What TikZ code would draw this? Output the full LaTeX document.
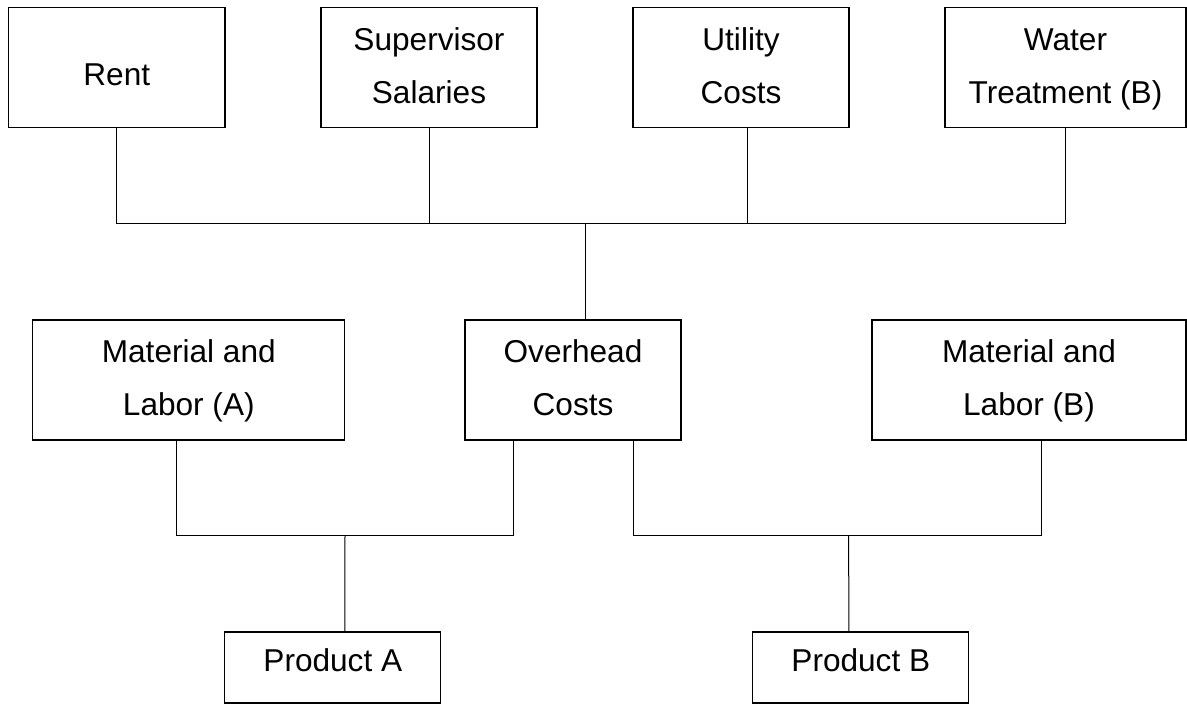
\documentclass[tikz,border=0pt]{standalone}
\usepackage{fontspec}
\setmainfont{Liberation Sans}
\usepackage{tikz}
\usetikzlibrary{positioning}

\begin{document}
\begin{tikzpicture}[x=1pt, y=-1pt, font=\fontsize{31.6}{53}\selectfont,
      cost/.style={draw, line width=1.3pt, align=center, inner sep=0pt, minimum width=216pt, minimum height=120pt, text height=76pt, text depth=5pt},
      prod/.style={draw, line width=1.3pt, align=center, inner sep=0pt, minimum width=216pt, minimum height=71pt, text height=23pt, text depth=14.6pt},
      link/.style={line width=1pt}]
    \useasboundingbox (0,0) rectangle (1187,704);
    % --- Row 1: the overhead items ---
    \node[cost, minimum width=216.5pt, text height=40pt] (rent) at (116.75,67.5) {Rent};
    \node[cost]                        (sup)   at (429,67.5)    {Supervisor\\Salaries};
    \node[cost]                        (util)  at (741,67.5)    {Utility\\Costs};
    \node[cost, minimum width=241pt]   (water) at (1065.5,67.5) {Water\\Treatment (B)};
    \coordinate (topbus) at (585,223.7);
    \draw[link] (rent.south) |- (topbus) -| (water.south);
    \draw[link] (sup.south)  -- (sup.south |- topbus);
    \draw[link] ([xshift=6pt]util.south) -- ([xshift=6pt]util.south |- topbus);
    % --- Row 2: what goes into each product ---
    \node[cost, minimum width=312pt] (matA) at (188.8,380) {Material and\\Labor (A)};
    \node[cost]                      (over) at (573,380)   {Overhead\\Costs};
    \node[cost, minimum width=314pt] (matB) at (1029,380)  {Material and\\Labor (B)};
    \draw[link] (topbus) -- ([xshift=12pt]over.north);
    % --- Row 3: the products ---
    \node[prod] (prodA) at (332.8,667.5) {Product A};
    \node[prod] (prodB) at (860.8,667.5) {Product B};
    \coordinate (busA) at (345,535.7);
    \coordinate (busB) at (848.7,535.7);
    \draw[link] ([xshift=-12pt]matA.south) |- (busA) -| ([xshift=-60pt]over.south);
    \draw[link] (busA) -- ([xshift=12pt]prodA.north);
    \draw[link] ([xshift=60pt]over.south) |- (busB) -| ([xshift=12pt]matB.south);
    \draw[link] (busB) -- ([xshift=-12pt]prodB.north);
  \end{tikzpicture}
\end{document}
